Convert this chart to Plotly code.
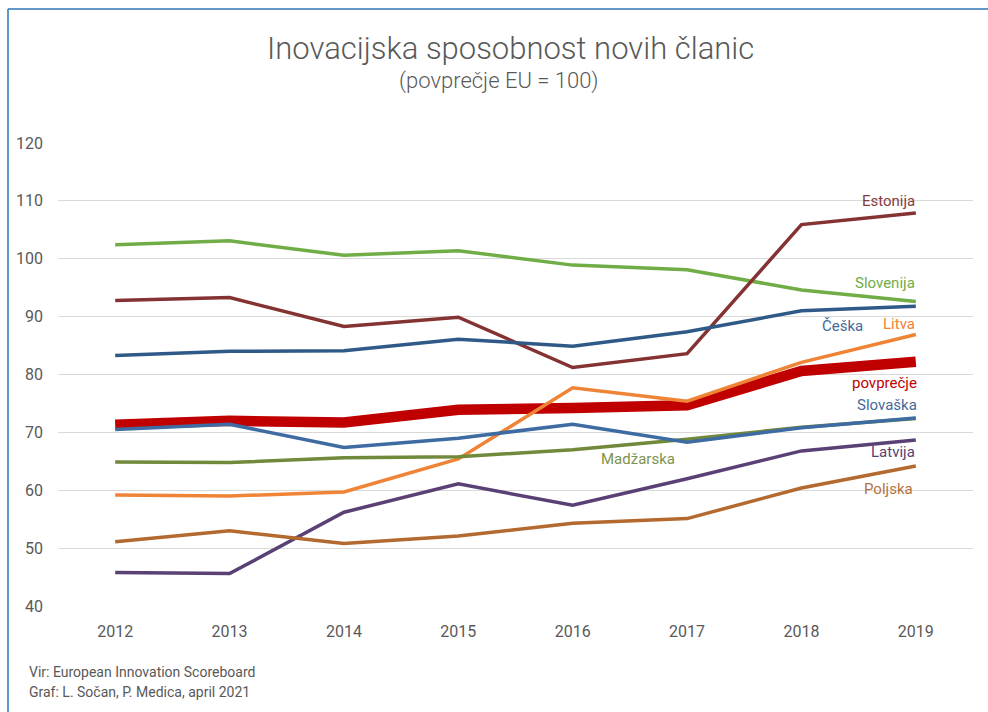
import plotly.graph_objects as go

years = ["2012", "2013", "2014", "2015", "2016", "2017", "2018", "2019"]

povprecje = [71.3, 72.0, 71.7, 73.9, 74.2, 74.7, 80.6, 82.2]
slovenija = [102.4, 103.1, 100.6, 101.4, 98.9, 98.1, 94.6, 92.6]
estonija = [92.8, 93.3, 88.3, 89.9, 81.2, 83.6, 105.9, 107.9]
ceska = [83.3, 84.0, 84.1, 86.1, 84.9, 87.4, 91.0, 91.8]
litva = [59.2, 59.0, 59.7, 65.4, 77.7, 75.4, 82.1, 86.9]
slovaska = [70.5, 71.4, 67.4, 69.0, 71.4, 68.3, 70.8, 72.5]
madzarska = [64.9, 64.8, 65.6, 65.8, 67.0, 68.8, 70.9, 72.4]
latvija = [45.8, 45.6, 56.2, 61.1, 57.4, 62.0, 66.8, 68.7]
poljska = [51.1, 53.0, 50.8, 52.1, 54.3, 55.1, 60.4, 64.2]

FONT = "Roboto"
GREY = "#595959"

W, H = 988, 712
L, R, T, B = 58, 15, 143, 106
pw = W - L - R
ph = H - T - B


def px_x(px):
    """Convert a horizontal pixel position to paper units."""
    return (px - L) / pw


def px_y(py):
    """Convert a vertical pixel position (from the top) to paper units."""
    return (H - B - py) / ph


# (name, values, colour, width, label text, label x index, label y, anchor)
series = [
    ("povprečje", povprecje, "#c00000", 10.5, "povprečje", 7.03, 78.5, "right"),
    ("Slovenija", slovenija, "#70ad47", 3.5, "Slovenija", 7.01, 95.8, "right"),
    ("Estonija", estonija, "#843232", 3.5, "Estonija", 7.01, 110.0, "right"),
    ("Češka", ceska, "#2f5a87", 3.5, "Češka", 6.36, 88.4, "center"),
    ("Litva", litva, "#f08436", 3.5, "Litva", 7.01, 88.7, "right"),
    ("Madžarska", madzarska, "#71893a", 3.5, "Madžarska", 4.57, 65.4, "center"),
    ("Slovaška", slovaska, "#3d6ba2", 3.5, "Slovaška", 7.03, 74.7, "right"),
    ("Latvija", latvija, "#5a4175", 3.5, "Latvija", 7.01, 66.6, "right"),
    ("Poljska", poljska, "#b4692f", 3.5, "Poljska", 6.99, 60.2, "right"),
]

label_colours = {
    "povprečje": "#c00000",
    "Slovenija": "#70ad47",
    "Estonija": "#843c3c",
    "Češka": "#44699a",
    "Litva": "#f08436",
    "Madžarska": "#7d9350",
    "Slovaška": "#44699a",
    "Latvija": "#5a4175",
    "Poljska": "#b4733f",
}

fig = go.Figure()
annotations = []
for name, vals, col, w, text, lx, ly, anch in series:
    fig.add_trace(go.Scatter(
        x=years, y=vals, mode="lines", name=name,
        line=dict(color=col, width=w),
        hoverinfo="x+y+name",
    ))
    annotations.append(dict(
        x=lx, y=ly, xref="x", yref="y", text=text, showarrow=False,
        xanchor=anch, yanchor="middle",
        font=dict(family=FONT, size=15, color=label_colours[name]),
    ))

# title, subtitle and footnotes
annotations += [
    dict(x=px_x(510), y=px_y(48), xref="paper", yref="paper", xanchor="center",
         yanchor="middle", showarrow=False,
         text="Inovacijska sposobnost novih članic",
         font=dict(family=FONT, size=31, color=GREY, weight=300)),
    dict(x=px_x(499), y=px_y(81), xref="paper", yref="paper", xanchor="center",
         yanchor="middle", showarrow=False, text="(povprečje EU = 100)",
         font=dict(family=FONT, size=22, color=GREY, weight=300)),
    dict(x=px_x(27), y=px_y(672), xref="paper", yref="paper",
         xanchor="left", yanchor="middle", showarrow=False,
         text="Vir: European Innovation Scoreboard",
         font=dict(family=FONT, size=14, color=GREY)),
    dict(x=px_x(27), y=px_y(692), xref="paper", yref="paper",
         xanchor="left", yanchor="middle", showarrow=False,
         text="Graf: L. Sočan, P. Medica, april 2021",
         font=dict(family=FONT, size=14, color=GREY)),
]

# thin blue frame along the top and left edges
shapes = [
    dict(type="line", xref="paper", yref="paper",
         x0=px_x(8), x1=px_x(995), y0=px_y(9), y1=px_y(9),
         line=dict(color="#2e75b6", width=1.5)),
    dict(type="line", xref="paper", yref="paper",
         x0=px_x(8), x1=px_x(8), y0=px_y(9), y1=px_y(720),
         line=dict(color="#2e75b6", width=1.5)),
]

fig.update_layout(
    width=W, height=H,
    margin=dict(l=L, r=R, t=T, b=B),
    paper_bgcolor="white", plot_bgcolor="white",
    showlegend=False,
    annotations=annotations,
    shapes=shapes,
    font=dict(family=FONT, color=GREY),
    xaxis=dict(
        type="category", range=[-0.5, 7.5], showgrid=False, zeroline=False,
        showline=False, ticks="", ticklabelstandoff=14,
        tickfont=dict(family=FONT, size=16, color=GREY),
    ),
    yaxis=dict(
        range=[40, 120], dtick=10, showgrid=True, gridcolor="#d9d9d9",
        gridwidth=1, zeroline=False, showline=False, ticks="",
        ticklabelstandoff=14,
        tickfont=dict(family=FONT, size=16, color=GREY),
    ),
)

fig.write_html("out.html")
